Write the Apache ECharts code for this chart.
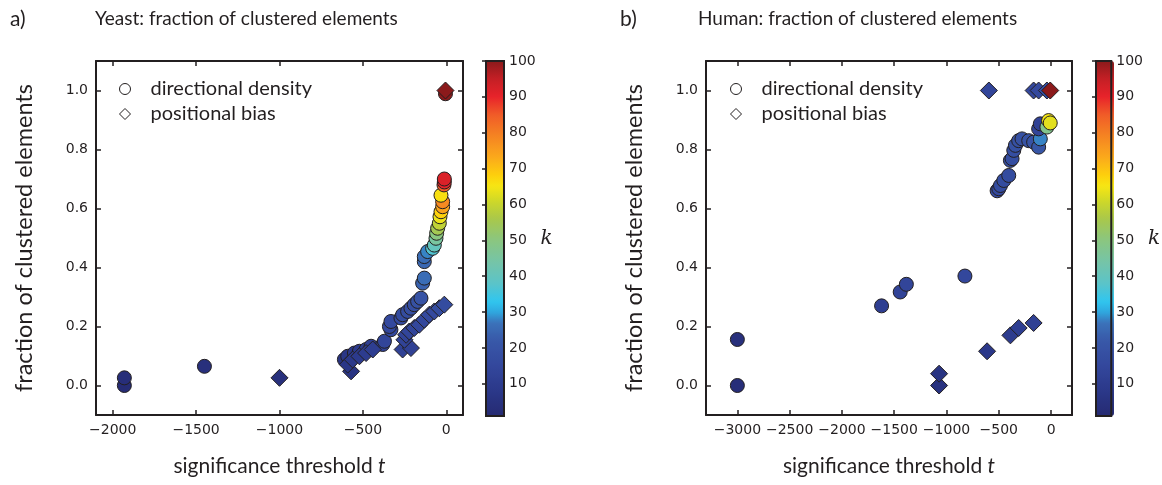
<!DOCTYPE html>
<html>
<head>
<meta charset="utf-8">
<script src="https://cdn.jsdelivr.net/npm/echarts@6/dist/echarts.min.js"></script>
<style>
  html, body { margin: 0; padding: 0; background: #fff; }
  #chart { width: 1162px; height: 485px; }
</style>
</head>
<body>
<div id="chart"></div>
<script>
// Each point: [significance threshold t, fraction of clustered elements, k]
const yeastDensity = [
  [-1930, 0.000, 2], [-1930, 0.026, 3], [-1450, 0.065, 4],
  [-611, 0.088, 6], [-591, 0.099, 7], [-551, 0.110, 8], [-521, 0.116, 9],
  [-481, 0.122, 10], [-451, 0.133, 11], [-381, 0.139, 13], [-371, 0.150, 14],
  [-332, 0.189, 15], [-341, 0.200, 15], [-332, 0.217, 16], [-272, 0.229, 16],
  [-262, 0.240, 17], [-232, 0.251, 17], [-212, 0.262, 18], [-192, 0.274, 18],
  [-172, 0.285, 19], [-152, 0.296, 20], [-142, 0.347, 24], [-132, 0.364, 26],
  [-132, 0.420, 25], [-132, 0.437, 26], [-112, 0.454, 28], [-82, 0.465, 37],
  [-72, 0.476, 40], [-62, 0.499, 45], [-58, 0.516, 50], [-52, 0.533, 55],
  [-42, 0.550, 59], [-38, 0.572, 64], [-32, 0.589, 68], [-22, 0.606, 74],
  [-22, 0.623, 78], [-32, 0.645, 66], [-14, 0.680, 85], [-12, 0.690, 90],
  [-12, 0.700, 92], [-5, 0.989, 100]
];
const yeastBias = [
  [-1000, 0.026, 4], [-571, 0.048, 6], [-591, 0.071, 7], [-561, 0.088, 8],
  [-521, 0.099, 9], [-481, 0.110, 10], [-441, 0.122, 11], [-262, 0.122, 12],
  [-212, 0.127, 12], [-251, 0.155, 13], [-241, 0.172, 13], [-222, 0.183, 14],
  [-192, 0.195, 14], [-162, 0.206, 15], [-132, 0.223, 15], [-102, 0.240, 16],
  [-72, 0.251, 16], [-42, 0.262, 17], [-12, 0.274, 17], [-5, 1.000, 100]
];
const humanDensity = [
  [-3000, 0.000, 3], [-3000, 0.156, 4], [-1621, 0.270, 11], [-1443, 0.317, 13],
  [-1384, 0.343, 14], [-824, 0.371, 15], [-516, 0.660, 16], [-500, 0.667, 16],
  [-484, 0.678, 17], [-452, 0.695, 17], [-405, 0.712, 17], [-389, 0.763, 18],
  [-373, 0.769, 18], [-357, 0.797, 18], [-341, 0.814, 19], [-310, 0.830, 19],
  [-278, 0.836, 19], [-214, 0.830, 20], [-167, 0.825, 20], [-119, 0.808, 21],
  [-103, 0.836, 28], [-119, 0.870, 14], [-103, 0.887, 12], [-40, 0.876, 48],
  [-24, 0.898, 65], [-8, 0.890, 63]
];
const humanBias = [
  [-1071, 0.000, 5], [-1071, 0.040, 6], [-612, 0.116, 8], [-389, 0.170, 10],
  [-310, 0.195, 11], [-167, 0.212, 12], [-595, 1.000, 14], [-167, 1.000, 15],
  [-119, 1.000, 16], [-40, 1.000, 17], [-8, 1.000, 100]
];

const seriesNames = ['directional density', 'positional bias'];
const panelLetters = ['a)', 'b)'];
const panelTitles = ['Yeast: fraction of clustered elements', 'Human: fraction of clustered elements'];
const xTicksYeast = [-2000, -1500, -1000, -500, 0];
const xTicksHuman = [-3000, -2500, -2000, -1500, -1000, -500, 0];
const yTicks = [0, 0.2, 0.4, 0.6, 0.8, 1.0];
const kTicks = [10, 20, 30, 40, 50, 60, 70, 80, 90, 100];
const kRange = [1, 100];

// Colour scale for k (blue -> cyan -> green -> yellow -> red)
const kColorStops = [
  [1, '#252a72'], [8, '#2b3889'], [15, '#33479c'], [22, '#3858a8'],
  [27, '#3b72ba'], [30, '#2fa8df'], [33, '#30c6ef'], [38, '#5bc4c8'],
  [43, '#72c4ad'], [50, '#8ac680'], [56, '#a9c84a'], [61, '#cfd828'],
  [65, '#f6e614'], [68, '#fdd10c'], [73, '#fbaa1b'], [79, '#f58422'],
  [85, '#f05c28'], [90, '#e8232a'], [95, '#c41f25'], [100, '#8b1a1b']
];

function hexToRgb(h) {
  return [parseInt(h.slice(1, 3), 16), parseInt(h.slice(3, 5), 16), parseInt(h.slice(5, 7), 16)];
}
function buildColormap(stops, lo, hi, n) {
  const out = [];
  for (let i = 0; i < n; i++) {
    const v = lo + (hi - lo) * i / (n - 1);
    let j = 0;
    while (j < stops.length - 2 && v > stops[j + 1][0]) j++;
    const [v0, c0] = stops[j], [v1, c1] = stops[j + 1];
    const a = Math.min(1, Math.max(0, (v - v0) / (v1 - v0)));
    const p = hexToRgb(c0), q = hexToRgb(c1);
    const rgb = p.map((x, m) => Math.round(x + (q[m] - x) * a));
    out.push('rgb(' + rgb.join(',') + ')');
  }
  return out;
}
const kColors = buildColormap(kColorStops, kRange[0], kRange[1], 100);

const INK = '#231f20';
const TICK_FONT = '"DejaVu Sans", sans-serif';
const TEXT_FONT = 'Lato, "Open Sans", sans-serif';

const panels = [
  { grid: { left: 96, top: 61, width: 367, height: 354 }, xMin: -2100, xMax: 100,
    xTicks: xTicksYeast, density: yeastDensity, bias: yeastBias,
    bar: { left: 486, top: 61, width: 18, height: 355 },
    titleLeft: 95, letterLeft: 10, legendLeft: 119 },
  { grid: { left: 706, top: 61, width: 366, height: 354 }, xMin: -3300, xMax: 200,
    xTicks: xTicksHuman, density: humanDensity, bias: humanBias,
    bar: { left: 1096, top: 61, width: 18, height: 355 },
    titleLeft: 698, letterLeft: 620, legendLeft: 730 }
];

const minusFmt = v => String(v).replace('-', '\u2212');
const tickLabel = (ticks, fmt, show) => ({
  show, customValues: ticks, formatter: fmt, color: INK,
  fontFamily: TICK_FONT, fontSize: 14, margin: 8
});
const tickMarks = (ticks, len) => ({
  show: true, inside: true, length: len, customValues: ticks,
  lineStyle: { color: INK, width: 1.5 }
});
const frameLine = { show: true, onZero: false, lineStyle: { color: INK, width: 2 } };

const option = {
  animation: false,
  backgroundColor: '#fff',
  title: [], legend: [], grid: [], xAxis: [], yAxis: [], visualMap: [], series: []
};

panels.forEach((p, i) => {
  const g = option.grid.length;
  option.grid.push(Object.assign({ containLabel: false }, p.grid));
  const xb = option.xAxis.length;
  option.xAxis.push({
    type: 'value', gridIndex: g, position: 'bottom', min: p.xMin, max: p.xMax,
    axisLine: frameLine, axisTick: tickMarks(p.xTicks, 5),
    axisLabel: tickLabel(p.xTicks, minusFmt, true), splitLine: { show: false },
    name: 'significance threshold {t|t}', nameLocation: 'middle', nameGap: 41,
    nameTextStyle: { fontFamily: TEXT_FONT, fontSize: 21, color: INK,
      rich: { t: { fontFamily: TEXT_FONT, fontStyle: 'italic', fontSize: 21, color: INK } } }
  }, {
    type: 'value', gridIndex: g, position: 'top', min: p.xMin, max: p.xMax,
    axisLine: frameLine, axisTick: tickMarks(p.xTicks, 5),
    axisLabel: { show: false }, splitLine: { show: false }
  });
  const yl = option.yAxis.length;
  option.yAxis.push({
    type: 'value', gridIndex: g, position: 'left', min: -0.1, max: 1.1,
    axisLine: frameLine, axisTick: tickMarks(yTicks, 5),
    axisLabel: tickLabel(yTicks, v => v.toFixed(1), true), splitLine: { show: false },
    name: 'fraction of clustered elements', nameLocation: 'middle', nameGap: 60,
    nameTextStyle: { fontFamily: TEXT_FONT, fontSize: 23.5, color: INK }
  }, {
    type: 'value', gridIndex: g, position: 'right', min: -0.1, max: 1.1,
    axisLine: frameLine, axisTick: tickMarks(yTicks, 5),
    axisLabel: { show: false }, splitLine: { show: false }
  });

  // colour bar axes
  const gb = option.grid.length;
  option.grid.push(Object.assign({ show: true, borderColor: INK, borderWidth: 2,
    backgroundColor: 'transparent', z: 5 }, p.bar));
  option.xAxis.push({ type: 'value', gridIndex: gb, show: false, min: 0, max: 1 });
  option.yAxis.push({
    type: 'value', gridIndex: gb, position: 'right', min: kRange[0], max: kRange[1], z: 6,
    axisLine: { show: false }, axisTick: tickMarks(kTicks, 4),
    axisLabel: Object.assign(tickLabel(kTicks, v => String(v), true), { margin: 5 }),
    splitLine: { show: false },
    name: 'k', nameLocation: 'middle', nameRotate: 0, nameGap: 30,
    nameTextStyle: { fontFamily: '"DejaVu Serif", serif', fontStyle: 'italic', fontSize: 20, color: INK }
  });

  const s = option.series.length;
  const markerStyle = { borderColor: INK, borderWidth: 1, opacity: 1 };
  option.series.push({
    name: seriesNames[0], type: 'scatter', xAxisIndex: xb, yAxisIndex: yl,
    symbol: 'circle', symbolSize: 14, data: p.density, itemStyle: markerStyle, z: 3
  }, {
    name: seriesNames[1], type: 'scatter', xAxisIndex: xb, yAxisIndex: yl,
    symbol: 'diamond', symbolSize: 17, data: p.bias, itemStyle: markerStyle, z: 4
  });

  option.visualMap.push({
    type: 'continuous', seriesIndex: [s, s + 1], dimension: 2,
    min: kRange[0], max: kRange[1], inRange: { color: kColors },
    show: true, calculable: false, hoverLink: false, orient: 'vertical',
    left: p.bar.left, top: p.bar.top, itemWidth: p.bar.width, itemHeight: p.bar.height,
    padding: 0, z: 1, text: null, showLabel: false
  });

  option.legend.push({
    orient: 'vertical', left: p.legendLeft, top: 79, padding: 0,
    itemWidth: 11, itemHeight: 11, itemGap: 5, selectedMode: false,
    textStyle: { fontFamily: TEXT_FONT, fontSize: 20, color: INK, padding: [0, 0, 0, 15] },
    data: [
      { name: seriesNames[0], icon: 'circle', itemStyle: { color: '#fff', borderColor: INK, borderWidth: 1 } },
      { name: seriesNames[1], icon: 'diamond', itemStyle: { color: '#fff', borderColor: INK, borderWidth: 1 } }
    ]
  });

  const titleStyle = { fontFamily: TEXT_FONT, fontSize: 19, fontWeight: 'normal', color: INK };
  option.title.push(
    { text: panelLetters[i], left: p.letterLeft, top: 9, padding: 0,
      textStyle: Object.assign({}, titleStyle, { fontSize: 21 }) },
    { text: panelTitles[i], left: p.titleLeft, top: 9, padding: 0, textStyle: titleStyle }
  );
});

const chart = echarts.init(document.getElementById('chart'), null, { renderer: 'canvas' });
chart.setOption(option);
</script>
</body>
</html>
